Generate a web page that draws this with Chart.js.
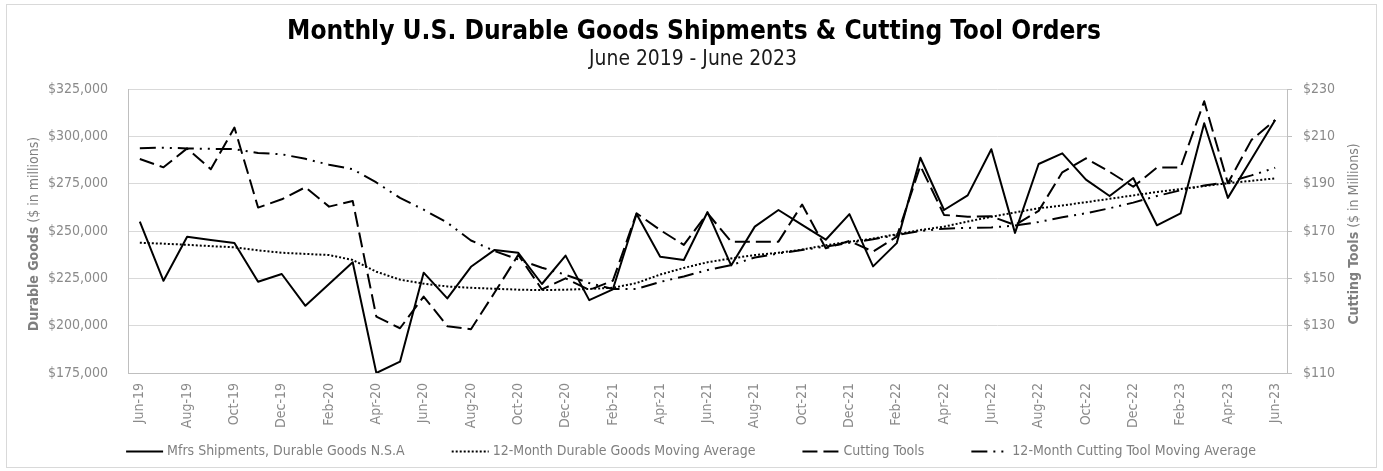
<!DOCTYPE html>
<html>
<head>
<meta charset="utf-8">
<script src="https://cdn.jsdelivr.net/npm/chart.js@4.4.0/dist/chart.umd.min.js"></script>
<style>
  html, body { margin: 0; padding: 0; background: #fff; overflow: hidden; }
  #wrap { width: 1383px; height: 471px; }
</style>
</head>
<body>
<div id="wrap"><canvas id="c" width="1383" height="471"></canvas></div>
<script>
// ---------- DATA ----------
const months = ['Jun-19','Jul-19','Aug-19','Sep-19','Oct-19','Nov-19','Dec-19','Jan-20','Feb-20','Mar-20','Apr-20','May-20',
  'Jun-20','Jul-20','Aug-20','Sep-20','Oct-20','Nov-20','Dec-20','Jan-21','Feb-21','Mar-21','Apr-21','May-21',
  'Jun-21','Jul-21','Aug-21','Sep-21','Oct-21','Nov-21','Dec-21','Jan-22','Feb-22','Mar-22','Apr-22','May-22',
  'Jun-22','Jul-22','Aug-22','Sep-22','Oct-22','Nov-22','Dec-22','Jan-23','Feb-23','Mar-23','Apr-23','May-23','Jun-23'];

// Mfrs Shipments, Durable Goods N.S.A ($ millions)
const shipments = [254900, 223700, 247000, 245300, 243700, 223200, 227300, 210500, 222000, 233500,
  175000, 181000, 228000, 214400, 231100, 240000, 238500, 222000, 237000, 213500,
  219200, 259000, 236400, 234700, 260000, 231800, 252300, 261100, 253200, 245400,
  258900, 231300, 243600, 288700, 261100, 268800, 293200, 249000, 285400, 291000,
  277100, 268500, 278000, 253000, 259300, 306900, 267500, 288000, 308600];

// 12-Month Durable Goods Moving Average
const shipmentsMA = [243800, 243300, 242700, 242000, 241400, 239800, 238500, 237900, 237300, 234700,
  228500, 224300, 222200, 220700, 220000, 219500, 219000, 218800, 219000, 219400,
  220000, 222500, 227000, 230500, 233500, 235500, 237300, 238500, 240200, 242500,
  244300, 246000, 248300, 250500, 252300, 255000, 257500, 259800, 262000, 263500,
  265200, 267000, 268800, 270600, 272200, 273800, 275200, 276500, 277800];

// Cutting Tools ($ millions)
const cuttingTools = [200.4, 196.9, 204.9, 196.1, 213.7, 179.9, 183.4, 188.5, 180.3, 182.7,
  133.8, 128.9, 142.3, 129.8, 128.5, 144.0, 159.9, 145.3, 150.0, 145.1,
  149.0, 177.5, 170.4, 164.1, 177.5, 165.5, 165.5, 165.5, 181.2, 162.7,
  165.8, 161.3, 167.6, 197.5, 176.8, 176.0, 176.2, 172.5, 178.5, 194.8,
  200.7, 195.0, 188.7, 196.8, 196.8, 224.8, 190.2, 208.5, 216.9];

// 12-Month Cutting Tool Moving Average
const cuttingToolsMA = [205.0, 205.2, 204.9, 204.7, 204.6, 203.0, 202.4, 200.5, 198.0, 196.1,
  190.5, 184.0, 179.0, 173.5, 166.0, 161.5, 158.0, 154.5, 151.5, 148.0,
  145.5, 145.5, 148.5, 150.8, 153.5, 155.6, 158.8, 160.5, 162.0, 163.4,
  165.0, 166.5, 168.3, 170.0, 171.0, 171.3, 171.5, 172.3, 173.8, 175.8,
  177.5, 179.6, 182.0, 184.8, 187.2, 189.2, 190.6, 193.5, 196.7];

const seriesNames = ['Mfrs Shipments, Durable Goods N.S.A', '12-Month Durable Goods Moving Average',
  'Cutting Tools', '12-Month Cutting Tool Moving Average'];
const titleText = 'Monthly U.S. Durable Goods Shipments & Cutting Tool Orders';
const subtitleText = 'June 2019 - June 2023';
const leftAxisTitle = ['Durable Goods', ' ($ in millions)'];
const rightAxisTitle = ['Cutting Tools', ' ($ in Millions)'];

// ---------- STYLE ----------
const FONT = '"DejaVu Sans Condensed", "DejaVu Sans", sans-serif';
const GRAY_TEXT = '#8a8a8a';

function fitSize(ctx, text, weight, target) {
  ctx.font = weight + ' 100px ' + FONT;
  const w = ctx.measureText(text).width;
  return 100 * target / w;
}

const decor = {
  id: 'decor',
  beforeDraw(chart) {
    const c = chart.ctx;
    c.save();
    c.fillStyle = '#fff';
    c.fillRect(0, 0, chart.width, chart.height);
    c.strokeStyle = '#d9d9d9';
    c.lineWidth = 1;
    c.strokeRect(6.5, 4.5, 1370, 463);
    c.restore();
  },
  afterDraw(chart) {
    const c = chart.ctx;
    const ca = chart.chartArea;
    c.save();
    // Title
    c.textAlign = 'center';
    c.textBaseline = 'middle';
    c.fillStyle = '#000';
    let s = fitSize(c, titleText, 'bold', 814);
    c.font = 'bold ' + s + 'px ' + FONT;
    c.fillText(titleText, 694, 32);
    s = fitSize(c, subtitleText, 'normal', 208);
    c.font = 'normal ' + s + 'px ' + FONT;
    c.fillStyle = '#1a1a1a';
    c.fillText(subtitleText, 693, 60);

    // Axis titles (rotated, mixed weight)
    const midY = (ca.top + ca.bottom) / 2 + 3;
    function axisTitle(parts, x, size) {
      c.save();
      c.translate(x, midY);
      c.rotate(-Math.PI / 2);
      c.textAlign = 'left';
      c.textBaseline = 'middle';
      c.fillStyle = '#7f7f7f';
      c.font = 'bold ' + size + 'px ' + FONT;
      const w1 = c.measureText(parts[0]).width;
      c.font = 'normal ' + size + 'px ' + FONT;
      const w2 = c.measureText(parts[1]).width;
      let x0 = -(w1 + w2) / 2;
      c.font = 'bold ' + size + 'px ' + FONT;
      c.fillText(parts[0], x0, 0);
      c.font = 'normal ' + size + 'px ' + FONT;
      c.fillText(parts[1], x0 + w1, 0);
      c.restore();
    }
    axisTitle(leftAxisTitle, 34, 14);
    axisTitle(rightAxisTitle, 1354, 14);

    // Legend
    const sample = 37, gap = 4, itemGap = 47, legendY = 451;
    c.font = 'normal 14px ' + FONT;
    const widths = chart.data.datasets.map(d => sample + gap + c.measureText(d.label).width);
    const total = widths.reduce((a, b) => a + b, 0) + itemGap * (widths.length - 1);
    let x = 691 - total / 2;
    chart.data.datasets.forEach((d, i) => {
      c.save();
      c.strokeStyle = d.borderColor;
      c.lineWidth = d.borderWidth;
      c.setLineDash(d.borderDash || []);
      c.lineCap = 'butt';
      c.beginPath();
      c.moveTo(x, legendY + 0.5);
      c.lineTo(x + sample, legendY + 0.5);
      c.stroke();
      c.restore();
      c.fillStyle = '#7f7f7f';
      c.textAlign = 'left';
      c.textBaseline = 'middle';
      c.font = 'normal 14px ' + FONT;
      c.fillText(d.label, x + sample + gap, legendY);
      x += widths[i] + itemGap;
    });
    c.restore();
  }
};

const lineBase = { borderColor: '#000', borderWidth: 2, pointRadius: 0, tension: 0, fill: false,
  borderJoinStyle: 'round', borderCapStyle: 'butt' };

new Chart(document.getElementById('c'), {
  type: 'line',
  data: {
    labels: months,
    datasets: [
      Object.assign({}, lineBase, { label: seriesNames[0], data: shipments, yAxisID: 'y', borderDash: [] }),
      Object.assign({}, lineBase, { label: seriesNames[1], data: shipmentsMA, yAxisID: 'y', borderDash: [2, 2] }),
      Object.assign({}, lineBase, { label: seriesNames[2], data: cuttingTools, yAxisID: 'y1', borderDash: [15, 6] }),
      Object.assign({}, lineBase, { label: seriesNames[3], data: cuttingToolsMA, yAxisID: 'y1', borderDash: [16, 6, 2, 6, 2, 6] })
    ]
  },
  options: {
    responsive: false,
    animation: false,
    devicePixelRatio: 1,
    layout: { padding: { top: 89, left: 0, right: 0, bottom: 36 } },
    plugins: {
      legend: { display: false },
      title: { display: false },
      tooltip: { enabled: false }
    },
    scales: {
      x: {
        offset: true,
        grid: { display: false, drawTicks: false },
        border: { display: true, color: '#bfbfbf', width: 1 },
        ticks: {
          autoSkip: false, minRotation: 90, maxRotation: 90, padding: 10,
          color: GRAY_TEXT, font: { family: FONT, size: 14 },
          callback: (v, i) => (i % 2 === 0 ? months[i] : '')
        },
        afterFit: s => { s.height = 62; }
      },
      y: {
        position: 'left',
        min: 175000, max: 325000,
        grid: { color: '#d9d9d9', drawTicks: false },
        border: { display: true, color: '#bfbfbf', width: 1 },
        ticks: {
          stepSize: 25000, padding: 20, color: GRAY_TEXT, font: { family: FONT, size: 14 },
          callback: v => '$' + v.toLocaleString('en-US')
        },
        afterFit: s => { s.width = 128; }
      },
      y1: {
        position: 'right',
        min: 110, max: 230,
        grid: { drawOnChartArea: false, drawTicks: true, tickLength: 5, color: '#bfbfbf' },
        border: { display: true, color: '#bfbfbf', width: 1 },
        ticks: {
          stepSize: 20, padding: 11, color: GRAY_TEXT, font: { family: FONT, size: 14 },
          callback: v => '$' + v
        },
        afterFit: s => { s.width = 96; }
      }
    }
  },
  plugins: [decor]
});
</script>
</body>
</html>
